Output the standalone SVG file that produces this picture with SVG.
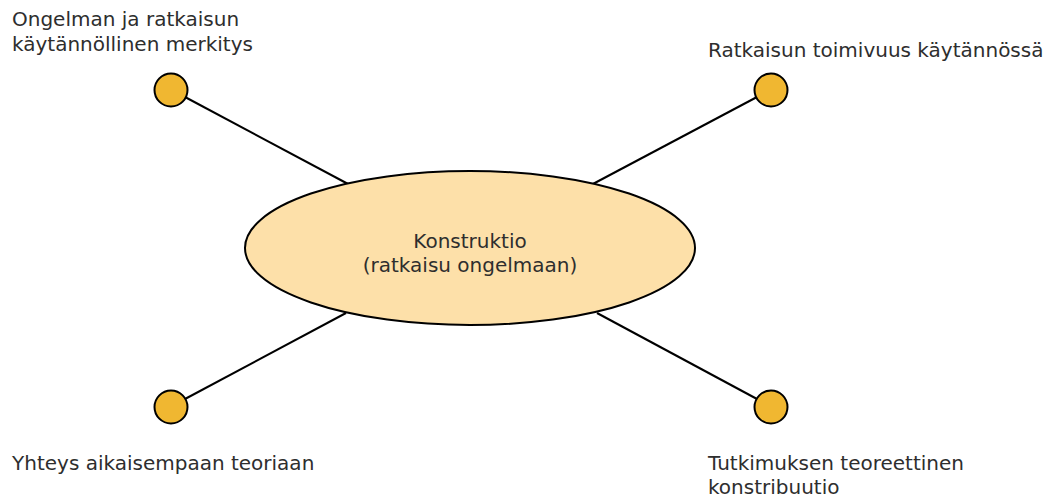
<svg xmlns="http://www.w3.org/2000/svg" width="1056" height="498" viewBox="0 0 1056 498">
  <style>
    .lbl { font-family: "DejaVu Sans", sans-serif; font-size: 20px; fill: #2e2e2e; }
    .mid { text-anchor: middle; }
    .conn { stroke: #000; stroke-width: 2; fill: none; }
    .dot { fill: #f0b731; stroke: #000; stroke-width: 2; }
    .core { fill: #fde0a9; stroke: #000; stroke-width: 2; }
  </style>
  <rect width="1056" height="498" fill="#fff"/>

  <!-- spokes from the centre ellipse out to the four points -->
  <g id="connectors">
    <line class="conn" x1="185" y1="97" x2="350" y2="185"/>
    <line class="conn" x1="757" y1="97" x2="591" y2="185"/>
    <line class="conn" x1="185" y1="399" x2="346" y2="313"/>
    <line class="conn" x1="757" y1="399" x2="597" y2="313"/>
  </g>

  <g id="konstruktio">
    <ellipse class="core" cx="470" cy="248" rx="225" ry="77"/>
    <text class="lbl mid" x="470" y="248">Konstruktio</text>
    <text class="lbl mid" x="470" y="272">(ratkaisu ongelmaan)</text>
  </g>

  <g id="merkitys">
    <circle class="dot" cx="171" cy="90" r="16.5"/>
    <text class="lbl" x="12" y="26">Ongelman ja ratkaisun</text>
    <text class="lbl" x="12" y="51">käytännöllinen merkitys</text>
  </g>

  <g id="toimivuus">
    <circle class="dot" cx="771" cy="90" r="16.5"/>
    <text class="lbl" x="708" y="57">Ratkaisun toimivuus käytännössä</text>
  </g>

  <g id="teoria">
    <circle class="dot" cx="171" cy="407" r="16.5"/>
    <text class="lbl" x="12" y="470">Yhteys aikaisempaan teoriaan</text>
  </g>

  <g id="kontribuutio">
    <circle class="dot" cx="771" cy="407" r="16.5"/>
    <text class="lbl" x="708" y="470">Tutkimuksen teoreettinen</text>
    <text class="lbl" x="708" y="494">konstribuutio</text>
  </g>
</svg>
